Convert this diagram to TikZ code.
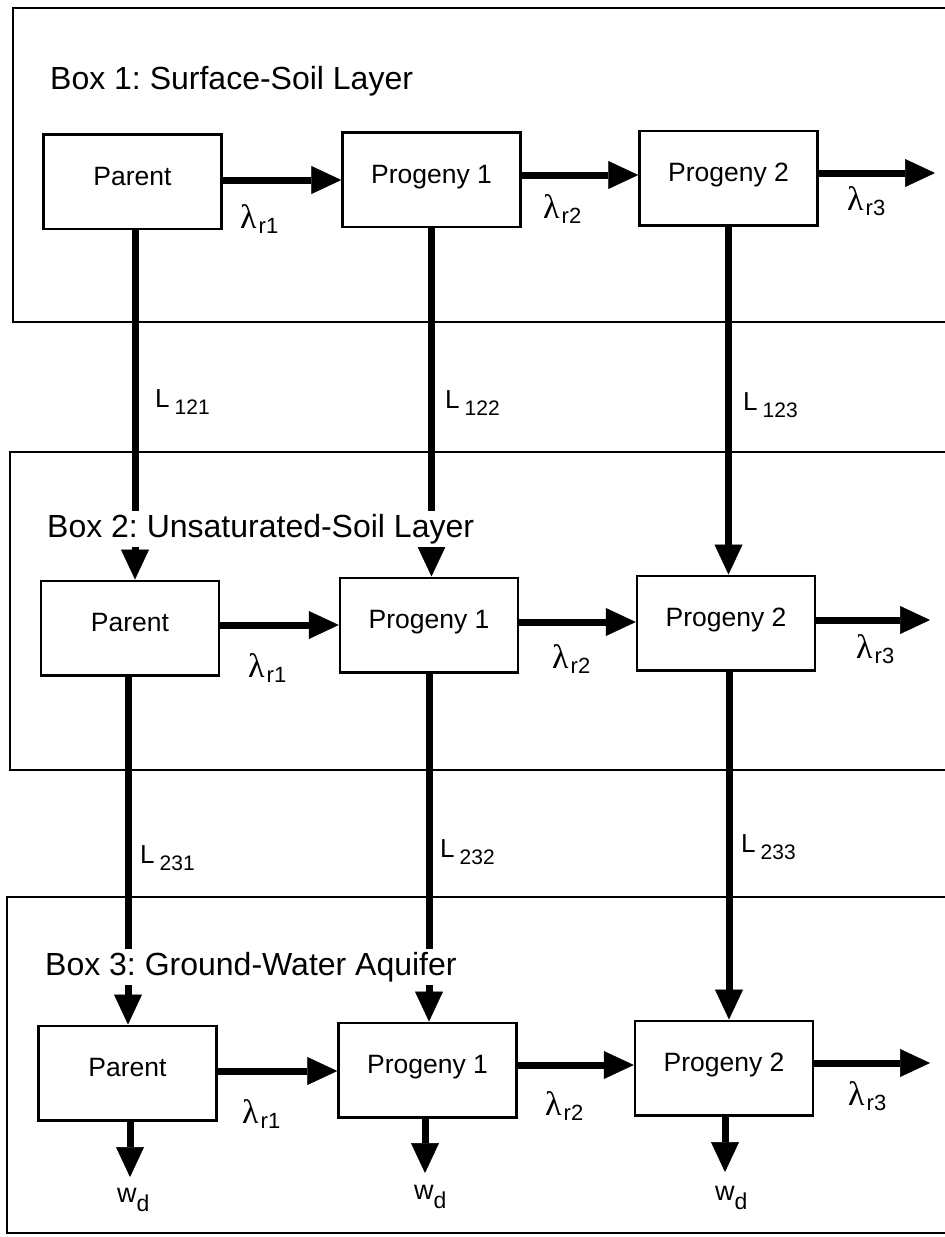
\documentclass[tikz,border=0pt]{standalone}
\usepackage{fontspec}
\setmainfont{Liberation Sans}
\newfontfamily\lamfont{Liberation Serif}
\usetikzlibrary{arrows.meta}
\frenchspacing
\newcommand{\lamlab}[1]{{\fontsize{34}{34}\selectfont\lamfont λ}\kern2pt\raisebox{-5pt}{\fontsize{22}{22}\selectfont #1}}
\newcommand{\Llab}[1]{{\fontsize{26}{26}\selectfont L}\kern5pt\raisebox{-7pt}{\fontsize{21}{21}\selectfont #1}}
\newcommand{\wdlab}{{\fontsize{27}{27}\selectfont w}\raisebox{-9pt}{\fontsize{23}{23}\selectfont d}}
\begin{document}
\begin{tikzpicture}[x=1pt,y=-1pt,
  outer/.style={line width=2.5pt},
  cbox/.style={draw, line width=2.5pt, minimum width=178pt, minimum height=94.5pt,
    inner sep=0pt, font=\fontsize{26.5}{26.5}\selectfont, text height=0.72em, text depth=0pt},
  flow/.style={line width=7pt, -{Triangle[length=30pt,width=28pt,line width=0.5pt]}},
  ttl/.style={anchor=base west, fill=white, inner sep=3pt, font=\fontsize{32}{32}\selectfont},
  lab/.style={anchor=base west, inner sep=0pt}]
\useasboundingbox (0,0) rectangle (945,1237);
% layer frames (open on the right)
\draw[outer] (950,8) -- (13,8) -- (13,322) -- (950,322);
\draw[outer] (950,452) -- (10,452) -- (10,770) -- (950,770);
\draw[outer] (950,897) -- (7,897) -- (7,1233) -- (950,1233);
% compartments
\node[cbox] (p1) at (132.5,181.5) {Parent};
\node[cbox] (a1) at (431.5,179.5) {Progeny 1};
\node[cbox] (b1) at (728.5,178) {Progeny 2};
\node[cbox] (p2) at (130,628) {Parent};
\node[cbox] (a2) at (429,625) {Progeny 1};
\node[cbox] (b2) at (726,623) {Progeny 2};
\node[cbox] (p3) at (127.5,1073) {Parent};
\node[cbox] (a3) at (427.5,1070) {Progeny 1};
\node[cbox] (b3) at (724,1068) {Progeny 2};
% free ends
\coordinate (o1) at (935,173);
\coordinate (o2) at (930,620);
\coordinate (o3) at (930,1063);
\coordinate (w1) at (130,1177);
\coordinate (w2) at (425,1173);
\coordinate (w3) at (725,1172);
% decay chains
\draw[flow] ([yshift=1.5pt]p1.east) -- ([yshift=1.5pt]p1.east -| a1.west);
\draw[flow] ([yshift=4.5pt]a1.east) -- ([yshift=4.5pt]a1.east -| b1.west);
\draw[flow] (b1.east |- o1) -- (o1);
\draw[flow] ([yshift=3pt]p2.east) -- ([yshift=3pt]p2.east -| a2.west);
\draw[flow] ([yshift=3pt]a2.east) -- ([yshift=3pt]a2.east -| b2.west);
\draw[flow] (b2.east |- o2) -- (o2);
\draw[flow] ([yshift=2pt]p3.east) -- ([yshift=2pt]p3.east -| a3.west);
\draw[flow] ([yshift=5pt]a3.east) -- ([yshift=5pt]a3.east -| b3.west);
\draw[flow] (b3.east |- o3) -- (o3);
% leaching
\draw[flow] ([xshift=2.5pt]p1.south) -- ([xshift=2.5pt]p1.south |- p2.north);
\draw[flow] (a1.south) -- (a1.south |- a2.north);
\draw[flow] (b1.south) -- (b1.south |- b2.north);
\draw[flow] ([xshift=-2pt]p2.south) -- ([xshift=-2pt]p2.south |- p3.north);
\draw[flow] (a2.south) -- (a2.south |- a3.north);
\draw[flow] ([xshift=3pt]b2.south) -- ([xshift=3pt]b2.south |- b3.north);
% withdrawal
\draw[flow] (p3.south -| w1) -- (w1);
\draw[flow] (a3.south -| w2) -- (w2);
\draw[flow] (b3.south -| w3) -- (w3);
% titles
\node[ttl] (t1) at (47,89) {Box 1: Surface-Soil Layer};
\node[ttl] (t2) at (44,537) {Box 2: Unsaturated-Soil Layer};
\node[ttl] (t3) at (42,975) {Box 3: Ground-Water Aquifer};
% rate labels
\node[lab] (r11) at (240,228) {\lamlab{r1}};
\node[lab] (r12) at (543,218) {\lamlab{r2}};
\node[lab] (r13) at (847,210) {\lamlab{r3}};
\node[lab] (r21) at (248,677) {\lamlab{r1}};
\node[lab] (r22) at (552,668) {\lamlab{r2}};
\node[lab] (r23) at (856,658) {\lamlab{r3}};
\node[lab] (r31) at (242,1123) {\lamlab{r1}};
\node[lab] (r32) at (545,1115) {\lamlab{r2}};
\node[lab] (r33) at (848,1105) {\lamlab{r3}};
\node[lab] (l121) at (155,407) {\Llab{121}};
\node[lab] (l122) at (445,408) {\Llab{122}};
\node[lab] (l123) at (743,410) {\Llab{123}};
\node[lab] (l231) at (140,863) {\Llab{231}};
\node[lab] (l232) at (440,857) {\Llab{232}};
\node[lab] (l233) at (741,852) {\Llab{233}};
\node[lab] (wd1) at (117,1202) {\wdlab};
\node[lab] (wd2) at (414,1199) {\wdlab};
\node[lab] (wd3) at (715,1200) {\wdlab};
\end{tikzpicture}
\end{document}
